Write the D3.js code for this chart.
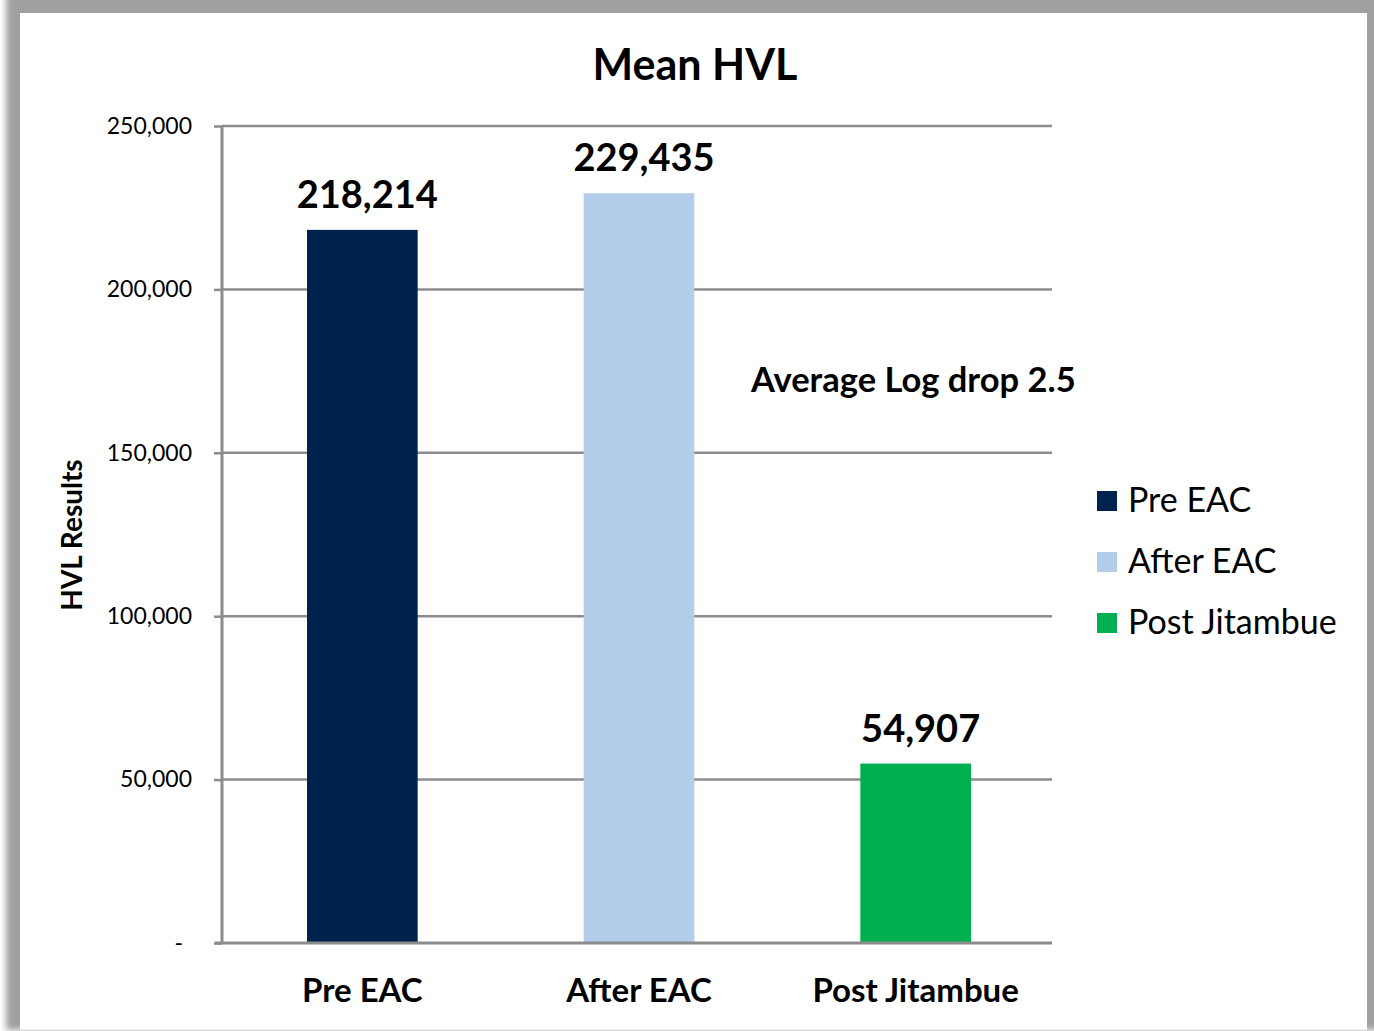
<!DOCTYPE html>
<html>
<head>
<meta charset="utf-8">
<script src="https://cdn.jsdelivr.net/npm/d3@7"></script>
<style>
  body { margin: 0; background: #fff; }
  svg text { font-family: Lato, "Open Sans", sans-serif; fill: #000; }
</style>
</head>
<body>
<svg id="view"></svg>
<script>
// data
const categories = ['Pre EAC', 'After EAC', 'Post Jitambue'];
const values = [218214, 229435, 54907];
const colors = ['#00234e', '#b3cdea', '#00b050'];
const yTicks = [0, 50000, 100000, 150000, 200000, 250000];

const W = 1374, H = 1031;
const margin = {top: 126, right: 322, bottom: 88, left: 222};
const width = W - margin.left - margin.right;
const height = H - margin.top - margin.bottom;

const svg = d3.select('#view').attr('width', W).attr('height', H);

// frame with shadow
const defs = svg.append('defs');
defs.append('filter').attr('id', 'blur').attr('x', '-5%').attr('y', '-5%').attr('width', '110%').attr('height', '110%')
  .append('feGaussianBlur').attr('stdDeviation', 3);
svg.append('rect').attr('x', 6).attr('y', -10).attr('width', 1380).attr('height', 1040)
  .attr('fill', '#a0a0a0').attr('filter', 'url(#blur)');
svg.append('rect').attr('x', 20).attr('y', 13).attr('width', 1347).attr('height', 1017)
  .attr('fill', '#fff');
svg.append('line').attr('x1', 20).attr('x2', 1367).attr('y1', 1030).attr('y2', 1030)
  .attr('stroke', '#ddd').attr('stroke-width', 1);

const g = svg.append('g').attr('transform', `translate(${margin.left},${margin.top})`);

const x = d3.scaleBand().domain(categories).range([0, width]).padding(0);
const y = d3.scaleLinear().domain([0, 250000]).range([height, 0]);

// gridlines
g.append('g').selectAll('line').data(yTicks.slice(1)).join('line')
  .attr('x1', 0).attr('x2', width)
  .attr('y1', d => y(d)).attr('y2', d => y(d))
  .attr('stroke', '#8c8c8c').attr('stroke-width', 2.5);

// y axis
const yAxis = d3.axisLeft(y).tickValues(yTicks).tickSize(8).tickPadding(22)
  .tickFormat(d => d === 0 ? '-' : d3.format(',')(d));
const ya = g.append('g').call(yAxis);
ya.select('.domain').attr('stroke', '#8c8c8c').attr('stroke-width', 3).attr('d', `M0,0V${height}`);
ya.selectAll('.tick line').attr('stroke', '#8c8c8c').attr('stroke-width', 2.5);
ya.selectAll('.tick text').attr('font-size', 23).attr('font-family', 'Lato, sans-serif').attr('fill', '#000')
  .attr('dx', d => d === 0 ? -9 : 0);

// bars
const barW = x.bandwidth() * 0.4;
g.selectAll('.bar').data(values).join('rect')
  .attr('class', 'bar')
  .attr('x', (d, i) => x(categories[i]) + (x.bandwidth() - barW) / 2 + 2)
  .attr('width', barW)
  .attr('y', d => y(d))
  .attr('height', d => height - y(d))
  .attr('fill', (d, i) => colors[i]);

// x axis
g.append('line').attr('x1', -7).attr('x2', width).attr('y1', height).attr('y2', height)
  .attr('stroke', '#8c8c8c').attr('stroke-width', 3);
g.selectAll('.cat').data(categories).join('text')
  .attr('x', d => x(d) + x.bandwidth() / 2 + 2)
  .attr('y', height + 59)
  .attr('text-anchor', 'middle')
  .attr('font-size', 33).attr('font-weight', 'bold')
  .text(d => d);

// value labels
g.selectAll('.val').data(values).join('text')
  .attr('x', (d, i) => x(categories[i]) + x.bandwidth() / 2 + 7)
  .attr('y', d => y(d) - 22)
  .attr('text-anchor', 'middle')
  .attr('font-size', 38).attr('font-weight', 'bold')
  .text(d => d3.format(',')(d));

// title
svg.append('text').attr('x', 695).attr('y', 80).attr('text-anchor', 'middle')
  .attr('font-size', 43).attr('font-weight', 'bold').text('Mean HVL');

// y label
svg.append('text').attr('transform', 'translate(82,535) rotate(-90)')
  .attr('text-anchor', 'middle').attr('font-size', 28).attr('font-weight', 'bold')
  .text('HVL Results');

// annotation
svg.append('text').attr('x', 751).attr('y', 392)
  .attr('font-size', 34.5).attr('font-weight', 'bold').text('Average Log drop 2.5');

// legend
const leg = svg.append('g').attr('transform', 'translate(1097,491)');
const item = leg.selectAll('g').data(categories).join('g')
  .attr('transform', (d, i) => `translate(0,${i * 61})`);
item.append('rect').attr('width', 20).attr('height', 20).attr('fill', (d, i) => colors[i]);
item.append('text').attr('x', 31).attr('y', 21).attr('font-size', 34).text(d => d);
</script>
</body>
</html>
